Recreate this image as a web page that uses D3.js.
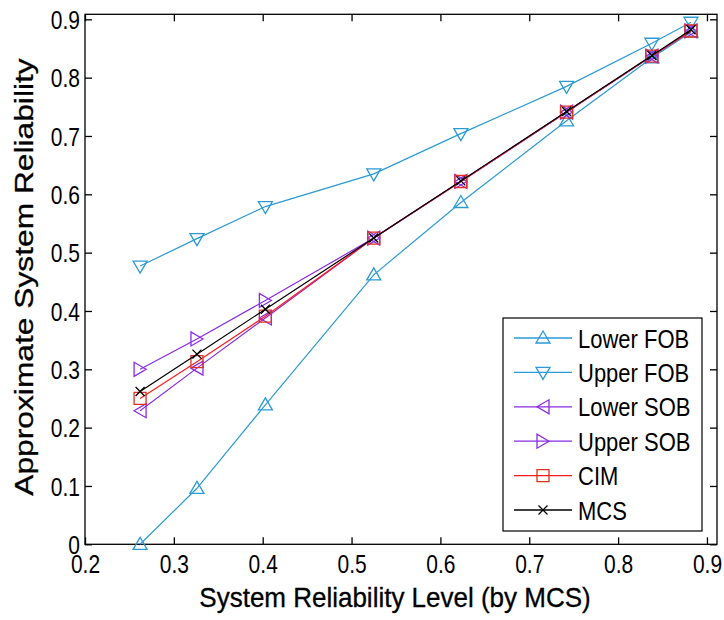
<!DOCTYPE html>
<html>
<head>
<meta charset="utf-8">
<script src="https://cdn.jsdelivr.net/npm/d3@7"></script>
<style>
  body { margin: 0; background: #fff; }
  svg text { font-family: "Liberation Sans", Arial, sans-serif; fill: #000; }
</style>
</head>
<body>
<div class="displayArea"></div>
<script>
// data
const levels = [0.262, 0.326, 0.403, 0.525, 0.623, 0.742, 0.838, 0.882];
const lowerFOB = [0.000, 0.096, 0.239, 0.462, 0.586, 0.726, 0.834, 0.878];
const upperFOB = [0.477, 0.524, 0.579, 0.635, 0.704, 0.785, 0.859, 0.895];
const lowerSOB = [0.229, 0.302, 0.388, 0.525, 0.622, 0.741, 0.837, 0.880];
const upperSOB = [0.300, 0.352, 0.418, 0.525, 0.622, 0.741, 0.837, 0.880];
const cim = [0.250, 0.313, 0.391, 0.525, 0.622, 0.741, 0.837, 0.880];
const mcs = [0.262, 0.326, 0.403, 0.525, 0.623, 0.742, 0.838, 0.882];
const xTicks = [0.2, 0.3, 0.4, 0.5, 0.6, 0.7, 0.8, 0.9];
const yTicks = [0, 0.1, 0.2, 0.3, 0.4, 0.5, 0.6, 0.7, 0.8, 0.9];
const seriesNames = ["Lower FOB", "Upper FOB", "Lower SOB", "Upper SOB", "CIM", "MCS"];

const blue = "#2b9ad6", purple = "#8a2be6", red = "#ff1a1a", black = "#000";

const series = [
    { name: seriesNames[0], values: lowerFOB, color: blue, mark: "up" },
    { name: seriesNames[1], values: upperFOB, color: blue, mark: "down" },
    { name: seriesNames[2], values: lowerSOB, color: purple, mark: "left" },
    { name: seriesNames[3], values: upperSOB, color: purple, mark: "right" },
    { name: seriesNames[4], values: cim, color: red, markColor: "#e0301e", mark: "square" },
    { name: seriesNames[5], values: mcs, color: black, mark: "cross" }
];

const W = 724, H = 620;
const plotLeft = 85, plotRight = 717, plotTop = 14.3, plotBottom = 544.3;
const stretch = 1.2; // glyphs in the original are taller than wide

const x = d3.scaleLinear().domain([0.2, 0.9113]).range([plotLeft, plotRight]);
const y = d3.scaleLinear().domain([0, 0.9086]).range([plotBottom, plotTop]);

const svg = d3.select(".displayArea").append("svg")
    .attr("width", W)
    .attr("height", H);

// marker shapes
function markerPath(type) {
    switch (type) {
        case "up": return "M0,-7L7,5L-7,5Z";
        case "down": return "M0,7L7,-5L-7,-5Z";
        case "left": return "M-6,0L6,-7L6,7Z";
        case "right": return "M6,0L-6,-7L-6,7Z";
        case "square": return "M-6,-6H6V6H-6Z";
        case "cross": return "M-4.5,-4.5L4.5,4.5M-4.5,4.5L4.5,-4.5";
    }
}

// axes box with inward ticks
const frame = svg.append("g");
frame.append("rect")
    .attr("x", plotLeft).attr("y", plotTop)
    .attr("width", plotRight - plotLeft).attr("height", plotBottom - plotTop)
    .attr("fill", "none").attr("stroke", "#000").attr("stroke-width", 1.3);

const xAxisG = frame.append("g").attr("transform", `translate(0,${plotBottom})`)
    .call(d3.axisBottom(x).tickValues(xTicks).tickSizeInner(-7).tickSizeOuter(0).tickFormat(d3.format(".1f")));
frame.append("g").attr("transform", `translate(0,${plotTop})`)
    .call(d3.axisTop(x).tickValues(xTicks).tickSizeInner(-7).tickSizeOuter(0).tickFormat(""));
const yAxisG = frame.append("g").attr("transform", `translate(${plotLeft},0)`)
    .call(d3.axisLeft(y).tickValues(yTicks).tickSizeInner(-7).tickSizeOuter(0).tickPadding(5).tickFormat(d => d === 0 ? "0" : d3.format(".1f")(d)));
frame.append("g").attr("transform", `translate(${plotRight},0)`)
    .call(d3.axisRight(y).tickValues(yTicks).tickSizeInner(-7).tickSizeOuter(0).tickFormat(""));

frame.selectAll(".domain").remove();
frame.selectAll(".tick line").attr("stroke", "#000").attr("stroke-width", 1.3);
frame.selectAll(".tick text")
    .attr("font-size", 21)
    .attr("fill", "#111");

xAxisG.selectAll(".tick text")
    .attr("y", 0)
    .attr("dy", "0.36em")
    .attr("transform", `translate(0,20) scale(1,${stretch})`);
yAxisG.selectAll(".tick text")
    .attr("dy", "0.36em")
    .attr("transform", `scale(1,${stretch})`);

// lines and markers
const line = d3.line()
    .x((d, i) => x(levels[i]))
    .y(d => y(d));

const plot = svg.append("g");
series.forEach(s => {
    plot.append("path")
        .attr("d", line(s.values))
        .attr("fill", "none")
        .attr("stroke", s.color)
        .attr("stroke-width", 1.2);
    plot.selectAll(null)
        .data(s.values)
        .enter()
        .append("path")
        .attr("transform", (d, i) => `translate(${x(levels[i])},${y(d)})`)
        .attr("d", markerPath(s.mark))
        .attr("fill", "none")
        .attr("stroke", s.markColor || s.color)
        .attr("stroke-width", 1.3);
});

// legend
const legend = svg.append("g");
legend.append("rect")
    .attr("x", 503).attr("y", 318)
    .attr("width", 199).attr("height", 213)
    .attr("fill", "#fff").attr("stroke", "#000").attr("stroke-width", 1.2);

const rows = legend.selectAll(".row")
    .data(series)
    .enter()
    .append("g")
    .attr("class", "row")
    .attr("transform", (d, i) => `translate(0,${338 + i * 34.4})`);

rows.append("line")
    .attr("x1", 514).attr("x2", 572)
    .attr("stroke", d => d.color)
    .attr("stroke-width", 1.3);
rows.append("path")
    .attr("transform", "translate(543,0)")
    .attr("d", d => markerPath(d.mark))
    .attr("fill", "none")
    .attr("stroke", d => d.markColor || d.color)
    .attr("stroke-width", 1.3);
rows.append("text")
    .attr("transform", `translate(578,0) scale(1,${stretch})`)
    .attr("dy", "0.36em")
    .attr("font-size", 22)
    .text(d => d.name);

// axis labels
svg.append("text")
    .attr("transform", "translate(395,607) scale(1,1.05)")
    .attr("text-anchor", "middle")
    .attr("font-size", 26)
    .attr("stroke", "#000").attr("stroke-width", 0.3)
    .text("System Reliability Level (by MCS)");

svg.append("text")
    .attr("transform", "translate(33,277) rotate(-90) scale(1.27,1)")
    .attr("text-anchor", "middle")
    .attr("font-size", 25)
    .attr("stroke", "#000").attr("stroke-width", 0.3)
    .text("Approximate System Reliability");
</script>
</body>
</html>
